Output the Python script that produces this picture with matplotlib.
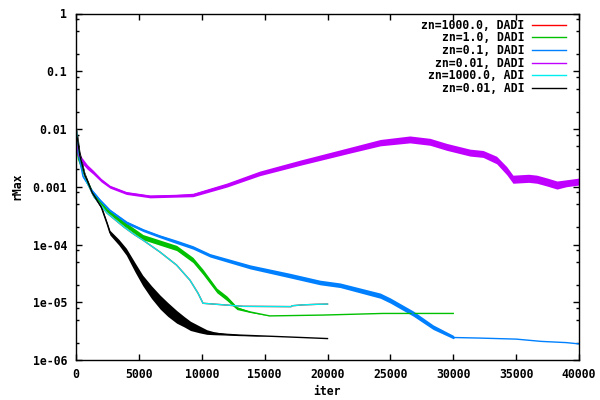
import matplotlib
matplotlib.use("Agg")
import matplotlib.pyplot as plt
import numpy as np
from matplotlib.ticker import FixedLocator, FixedFormatter, LogLocator, NullFormatter
from matplotlib.lines import Line2D

# ---------------- data ----------------
labels = ["zn=1000.0, DADI", "zn=1.0, DADI", "zn=0.1, DADI",
          "zn=0.01, DADI", "zn=1000.0, ADI", "zn=0.01, ADI"]
colors = ["#ff0000", "#00c000", "#0080ff", "#c000ff", "#00eeee", "#000000"]

# zn=1000.0, DADI (almost entirely hidden under zn=1000.0, ADI)
red_x = [0, 240, 870, 1430, 2470, 3820, 4610, 5330, 6680, 8000, 9070, 9700,
         10100, 13300, 17100, 17200, 18000, 19100, 20000]
red_y = [0.0117, 0.0038, 1.2e-3, 6.7e-4, 3.5e-4, 2.0e-4, 1.5e-4, 1.19e-4, 7.4e-5,
         4.4e-5, 2.4e-5, 1.44e-5, 9.6e-6, 8.5e-6, 8.4e-6, 8.7e-6, 9.0e-6, 9.2e-6, 9.3e-6]
red_hw = [0.0] * len(red_x)

# zn=1.0, DADI
green_x = [0, 200, 770, 1430, 2470, 3820, 5330, 8000, 9300, 10100, 11200, 12000,
           12800, 13840, 15400, 19650, 24400, 30000]
green_y = [0.006, 0.003, 1.4e-3, 7.1e-4, 3.9e-4, 2.3e-4, 1.34e-4, 8.7e-5, 5.4e-5,
           3.35e-5, 1.6e-5, 1.17e-5, 7.9e-6, 6.8e-6, 5.8e-6, 6.0e-6, 6.4e-6, 6.4e-6]
green_hw = [0.03, 0.03, 0.025, 0.025, 0.03, 0.04, 0.045, 0.045, 0.045, 0.045, 0.04,
            0.04, 0.025, 0.01, 0.0, 0.0, 0.0, 0.0]

# zn=0.1, DADI
blue_x = [0, 150, 557, 1200, 1900, 2700, 4030, 5350, 6650, 8000, 9300, 10650, 13840,
          17000, 19400, 21000, 24200, 25000, 26800, 28400, 30000, 30100, 32000, 35000,
          37000, 39000, 40000]
blue_y = [0.008, 0.004, 1.5e-3, 9e-4, 5.9e-4, 3.9e-4, 2.4e-4, 1.77e-4, 1.39e-4, 1.11e-4,
          8.9e-5, 6.5e-5, 4.1e-5, 2.9e-5, 2.2e-5, 1.97e-5, 1.3e-5, 1.07e-5, 6.4e-6,
          3.7e-6, 2.5e-6, 2.45e-6, 2.4e-6, 2.3e-6, 2.1e-6, 2.0e-6, 1.9e-6]
blue_hw = [0.05, 0.03, 0.02, 0.02, 0.02, 0.02, 0.025, 0.025, 0.025, 0.03, 0.03, 0.03,
           0.035, 0.04, 0.04, 0.04, 0.045, 0.045, 0.045, 0.04, 0.03, 0.0, 0.0, 0.0,
           0.0, 0.0, 0.0]

# zn=0.01, DADI
purple_x = [0, 200, 450, 900, 1350, 2000, 2700, 4000, 5900, 8000, 9300, 12000, 14600,
            17800, 21800, 24200, 26550, 28150, 29480, 31330, 32370, 33450, 34250,
            34750, 36000, 36650, 37500, 38250, 39000, 40000]
purple_y = [0.009, 0.0035, 0.0029, 0.0022, 0.0018, 0.0013, 0.001, 0.00078, 0.00068,
            0.0007, 0.00072, 0.00107, 0.0017, 0.0026, 0.0043, 0.0058, 0.0066, 0.006,
            0.0049, 0.0039, 0.0037, 0.0029, 0.0019, 0.00135, 0.0014, 0.00135, 0.0012,
            0.00107, 0.00115, 0.00123]
purple_hw = [0.08, 0.06, 0.05, 0.04, 0.035, 0.03, 0.025, 0.025, 0.025, 0.025, 0.03,
             0.035, 0.04, 0.045, 0.05, 0.055, 0.06, 0.06, 0.06, 0.06, 0.06, 0.065,
             0.07, 0.07, 0.07, 0.07, 0.07, 0.07, 0.06, 0.06]

# zn=1000.0, ADI
cyan_x = list(red_x)
cyan_y = list(red_y)
cyan_hw = [0.0] * len(cyan_x)

# zn=0.01, ADI
black_x = [0, 150, 300, 700, 1300, 2000, 2470, 2700, 3400, 4000, 4700, 5300, 6000,
           6700, 7300, 8000, 8600, 9100, 9800, 10400, 11000, 11800, 13000, 15600,
           18000, 20000]
black_y = [0.009, 0.006, 0.0035, 1.6e-3, 7.8e-4, 4.5e-4, 2.3e-4, 1.6e-4, 1.1e-4,
           7.5e-5, 4e-5, 2.4e-5, 1.5e-5, 1.0e-5, 7.5e-6, 5.6e-6, 4.6e-6, 3.9e-6,
           3.4e-6, 3.05e-6, 2.9e-6, 2.8e-6, 2.7e-6, 2.57e-6, 2.45e-6, 2.35e-6]
black_hw = [0.1, 0.1, 0.08, 0.04, 0.03, 0.03, 0.03, 0.04, 0.05, 0.06, 0.08, 0.09,
            0.11, 0.12, 0.12, 0.11, 0.09, 0.08, 0.06, 0.04, 0.025, 0.015, 0.01, 0.0,
            0.0, 0.0]

x_ticks = [0, 5000, 10000, 15000, 20000, 25000, 30000, 35000, 40000]
x_tick_labels = ["0", "5000", "10000", "15000", "20000", "25000", "30000", "35000", "40000"]
y_ticks = [1e-6, 1e-5, 1e-4, 1e-3, 1e-2, 1e-1, 1]
y_tick_labels = ["1e-06", "1e-05", "1e-04", "0.001", "0.01", "0.1", "1"]

series = [
    (red_x, red_y, red_hw),
    (green_x, green_y, green_hw),
    (blue_x, blue_y, blue_hw),
    (purple_x, purple_y, purple_hw),
    (cyan_x, cyan_y, cyan_hw),
    (black_x, black_y, black_hw),
]

# ---------------- plotting ----------------
FONT = "DejaVu Sans Mono"
FS = 8.3
plt.rcParams["font.family"] = FONT
plt.rcParams["font.weight"] = "bold"

fig = plt.figure(figsize=(6, 4), dpi=100)
ax = fig.add_axes([76 / 600, 40 / 400, (579 - 76) / 600, (360 - 13.5) / 400])

for (xs, ys, hw), c in zip(series, colors):
    xs = np.asarray(xs, float)
    ys = np.asarray(ys, float)
    hw = np.asarray(hw, float)
    ax.fill_between(xs, ys / 10 ** hw, ys * 10 ** hw, color=c, linewidth=0)
    ax.plot(xs, ys, color=c, lw=1.0, solid_joinstyle="miter")

ax.set_yscale("log")
ax.set_xlim(0, 40000)
ax.set_ylim(1e-6, 1)

ax.xaxis.set_major_locator(FixedLocator(x_ticks))
ax.xaxis.set_major_formatter(FixedFormatter(x_tick_labels))
ax.yaxis.set_major_locator(FixedLocator(y_ticks))
ax.yaxis.set_major_formatter(FixedFormatter(y_tick_labels))
ax.yaxis.set_minor_locator(LogLocator(base=10, subs=[2, 5, 8], numticks=20))
ax.yaxis.set_minor_formatter(NullFormatter())

ax.tick_params(axis="both", which="both", direction="in", top=True, right=True,
               labelsize=FS, colors="black")
ax.tick_params(axis="both", which="major", length=4.5, width=1.0)
ax.tick_params(axis="both", which="minor", length=2.5, width=1.0)
ax.tick_params(axis="y", which="major", pad=6.5)
ax.tick_params(axis="x", which="major", pad=5.5)
for lab in ax.get_xticklabels() + ax.get_yticklabels():
    lab.set_fontweight("bold")
for s in ax.spines.values():
    s.set_linewidth(1.0)

ax.set_xlabel("iter", fontsize=FS, fontweight="bold", labelpad=3)
ax.set_ylabel("rMax", fontsize=FS, fontweight="bold", labelpad=7)

handles = [Line2D([], [], color=c, lw=1.0) for c in colors]
leg = ax.legend(handles, labels, loc="upper right", bbox_to_anchor=(0.974, 0.985),
                frameon=False, markerfirst=False, fontsize=FS, borderpad=0,
                borderaxespad=0, handlelength=2.9, handletextpad=0.7,
                labelspacing=-0.03)
for t in leg.get_texts():
    t.set_fontweight("bold")

fig.savefig("out.png", dpi=100)
